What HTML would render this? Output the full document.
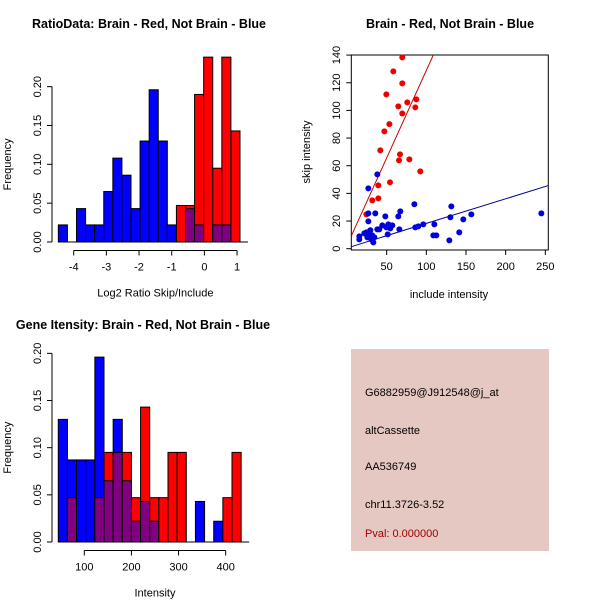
<!DOCTYPE html>
<html><head><meta charset="utf-8"><style>
body{margin:0;background:#fff}
svg{display:block;font-family:"Liberation Sans",Arial,sans-serif}
</style></head><body>
<svg id="s" width="600" height="600" viewBox="0 0 600 600" xmlns="http://www.w3.org/2000/svg">
<rect width="600" height="600" fill="#fff"/>
<text x="149" y="28" font-size="12.5" font-weight="bold" text-anchor="middle">RatioData: Brain - Red, Not Brain - Blue</text>
<text x="450" y="28" font-size="12.5" font-weight="bold" text-anchor="middle">Brain - Red, Not Brain - Blue</text>
<text x="143" y="329" font-size="12.5" font-weight="bold" text-anchor="middle">Gene Itensity: Brain - Red, Not Brain - Blue</text>
<g id="g1"></g>
<g id="g2"></g>
<g id="g3"></g>
<rect x="351" y="349" width="198" height="202" fill="#e6c8c2"/>
<g font-size="11">
<text x="365" y="396">G6882959@J912548@j_at</text>
<text x="365" y="434">altCassette</text>
<text x="365" y="470">AA536749</text>
<text x="365" y="508">chr11.3726-3.52</text>
<text x="365" y="537" fill="#a00000">Pval: 0.000000</text>
</g>
</svg>
<script>
// Ratio histogram data
const ratioBinStart = -4.47;
const ratioBinWidth = 0.278;
const ratioBlue = [0.022,0,0.043,0.022,0.022,0.065,0.108,0.086,0.043,0.13,0.196,0.13,0.022,0,0.043,0.022,0,0.022,0.022,0];
const ratioRed  = [0,0,0,0,0,0,0,0,0,0,0,0,0,0.047,0.047,0.19,0.238,0.095,0.238,0.143];
const ratioXTicks = [-4,-3,-2,-1,0,1];
const freqTicks1 = ["0.00","0.05","0.10","0.15","0.20"];
// Intensity histogram data
const intBinStart = 44.8;
const intBinWidth = 19.4;
const intBlue = [0.13,0.087,0.087,0.087,0.196,0.065,0.13,0.065,0.022,0.043,0.022,0,0,0,0,0.043,0,0.022,0,0];
const intRed  = [0,0.047,0,0,0.047,0.095,0.095,0.095,0.047,0.143,0.047,0.047,0.095,0.095,0,0,0,0,0.047,0.095];
const intXTicks = [100,200,300,400];
const freqTicks3 = ["0.00","0.05","0.10","0.15","0.20"];
// Scatter data
const redX = [69.7,58.4,69.7,49.6,76,87.4,64.7,86.1,69.7,53.4,47.1,42,66.8,65.6,78.6,92.4,54.2,39.5,39.5,31.9,24.4];
const redY = [138.3,128.2,119.5,111.6,105.8,108,102.9,102.2,97.8,90.1,84.8,71.1,68.2,63.9,64.6,55.9,48,45.8,36.4,34.9,24.8];
const blueX = [38.2,26.9,84.9,131.5,67.2,26.9,35.7,64.7,48.3,130.3,156.7,245,146.6,26.9,110.1,96.2,89.9,86.1,44.5,52.1,57.1,49.6,54.6,38.2,40.7,66,29.4,24.4,51.3,26.9,31.9,108.8,112.6,141.5,15.5,25.7,34.5,30.7,15.5,129,33.2,21.8];
const blueY = [53.7,43.6,32.1,30.6,27,25.5,25.5,23.4,23.4,22.7,24.8,25.5,21.2,19.8,17.6,17.6,16.1,15.4,16.9,17.6,16.9,15.4,14.7,14,14,14,13.3,11.8,10.4,10.4,9.6,9.6,9.6,11.8,8.9,8.2,8.2,6.7,6.7,6,4.6,11.1];
const redFit = [2.4,1.265];
const blueFit = [0.5,0.178];
const scXTicks = [50,100,150,200,250];
const scYTicks = [0,20,40,60,80,100,120,140];

const NS="http://www.w3.org/2000/svg";
function mk(parent,tag,attrs,txt){const e=document.createElementNS(NS,tag);for(const k in attrs)e.setAttribute(k,attrs[k]);if(txt!==undefined)e.textContent=txt;parent.appendChild(e);return e;}

function hist(g,o){
  const X=v=>o.x0+(v-o.vx0)*o.kx, Y=v=>o.y0-v*o.ky;
  for(let i=0;i<o.blue.length;i++){
    const a=X(o.start+i*o.w), b=X(o.start+(i+1)*o.w);
    const bl=o.blue[i], rd=o.red[i];
    if(bl>0){const r=mk(g,'rect',{x:a,y:Y(bl),width:b-a,height:Y(0)-Y(bl),fill:'#0000ff',stroke:'#000','stroke-width':1});
      
      }
    if(rd>0){const r=mk(g,'rect',{x:a,y:Y(rd),width:b-a,height:Y(0)-Y(rd),fill:'#ff0000',stroke:'#000','stroke-width':1});
      
      }
    const m=Math.min(bl,rd);
    if(m>0){const r=mk(g,'rect',{x:a,y:Y(m),width:b-a,height:Y(0)-Y(m),fill:'#800080',stroke:'#000','stroke-width':1});
      
      }
  }
  const xa=mk(g,'g',{});
  
  
  const t0=X(o.xt[0]), t1=X(o.xt[o.xt.length-1]);
  mk(xa,'line',{x1:t0,x2:t1,y1:o.axY,y2:o.axY,stroke:'#000'});
  o.xt.forEach(t=>{mk(xa,'line',{x1:X(t),x2:X(t),y1:o.axY,y2:o.axY+5,stroke:'#000'});
    mk(xa,'text',{x:X(t),y:o.axY+20,'font-size':11,'text-anchor':'middle'},String(t));});
  mk(g,'line',{x1:o.x0-8,x2:X(o.start+o.blue.length*o.w)+8,y1:Y(0),y2:Y(0),stroke:'#000'});
  const ya=mk(g,'g',{});
  
  
  mk(ya,'line',{x1:52,x2:52,y1:Y(0),y2:Y(0.2),stroke:'#000'});
  o.yt.forEach(t=>{const y=Y(parseFloat(t));mk(ya,'line',{x1:47,x2:52,y1:y,y2:y,stroke:'#000'});
    mk(ya,'text',{x:0,y:0,'font-size':11,'text-anchor':'middle',transform:`translate(41,${y}) rotate(-90)`},t);});
  const yl=mk(g,'text',{x:0,y:0,'font-size':11,'text-anchor':'middle',transform:`translate(11,${(Y(0)+Y(0.2))/2}) rotate(-90)`},'Frequency');
  
  
  const xl=mk(g,'text',{x:(t0+t1)/2,y:o.axY+46,'font-size':11,'text-anchor':'middle'},o.xlab);
  
  
}
hist(document.getElementById('g1'),{x0:73.7,vx0:-4,kx:32.67,y0:242,ky:776.7,start:ratioBinStart,w:ratioBinWidth,blue:ratioBlue,red:ratioRed,xt:ratioXTicks,yt:freqTicks1,axY:250.5,xlab:'Log2 Ratio Skip/Include'});
hist(document.getElementById('g3'),{x0:84.3,vx0:100,kx:0.4713,y0:542,ky:943.3,start:intBinStart,w:intBinWidth,blue:intBlue,red:intRed,xt:intXTicks,yt:freqTicks3,axY:550.5,xlab:'Intensity'});

// scatter
(function(){
  const g=document.getElementById('g2');
  const X=v=>347+v*0.7933, Y=v=>248.7-v*1.383;
  const L=351.3,R=548.3,T=55,B=250;
  mk(g,'defs',{}).innerHTML='<clipPath id="cp"><rect x="351.3" y="55" width="197" height="195"/></clipPath>';
  mk(g,'rect',{x:L,y:T,width:R-L,height:B-T,fill:'none',stroke:'#000'});
  const fits=[[redFit,'#cc0000','red-fit-line'],[blueFit,'#00008b','blue-fit-line']];
  fits.forEach(f=>{const xa=(L-347)/0.7933, xb=(R-347)/0.7933;
    const l=mk(g,'line',{x1:L,x2:R,y1:Y(f[0][0]+f[0][1]*xa),y2:Y(f[0][0]+f[0][1]*xb),stroke:f[1],'clip-path':'url(#cp)'});
    
    });
  redX.forEach((x,i)=>{const c=mk(g,'circle',{cx:X(x),cy:Y(redY[i]),r:3,fill:'#ee0000'});
    
    });
  blueX.forEach((x,i)=>{const c=mk(g,'circle',{cx:X(x),cy:Y(blueY[i]),r:3,fill:'#0000dd'});
    
    });
  const xa=mk(g,'g',{});
  
  
  scXTicks.forEach(t=>{mk(xa,'line',{x1:X(t),x2:X(t),y1:B,y2:B+5,stroke:'#000'});
    mk(xa,'text',{x:X(t),y:B+20,'font-size':11,'text-anchor':'middle'},String(t));});
  const ya=mk(g,'g',{});
  
  
  scYTicks.forEach(t=>{mk(ya,'line',{x1:L-5,x2:L,y1:Y(t),y2:Y(t),stroke:'#000'});
    mk(ya,'text',{x:0,y:0,'font-size':11,'text-anchor':'middle',transform:`translate(340,${Y(t)}) rotate(-90)`},String(t));});
  const xl=mk(g,'text',{x:449,y:298,'font-size':11,'text-anchor':'middle'},'include intensity');
  
  
  const yl=mk(g,'text',{x:0,y:0,'font-size':11,'text-anchor':'middle',transform:'translate(310,152) rotate(-90)'},'skip intensity');
  
  
})();
</script>
</body></html>
